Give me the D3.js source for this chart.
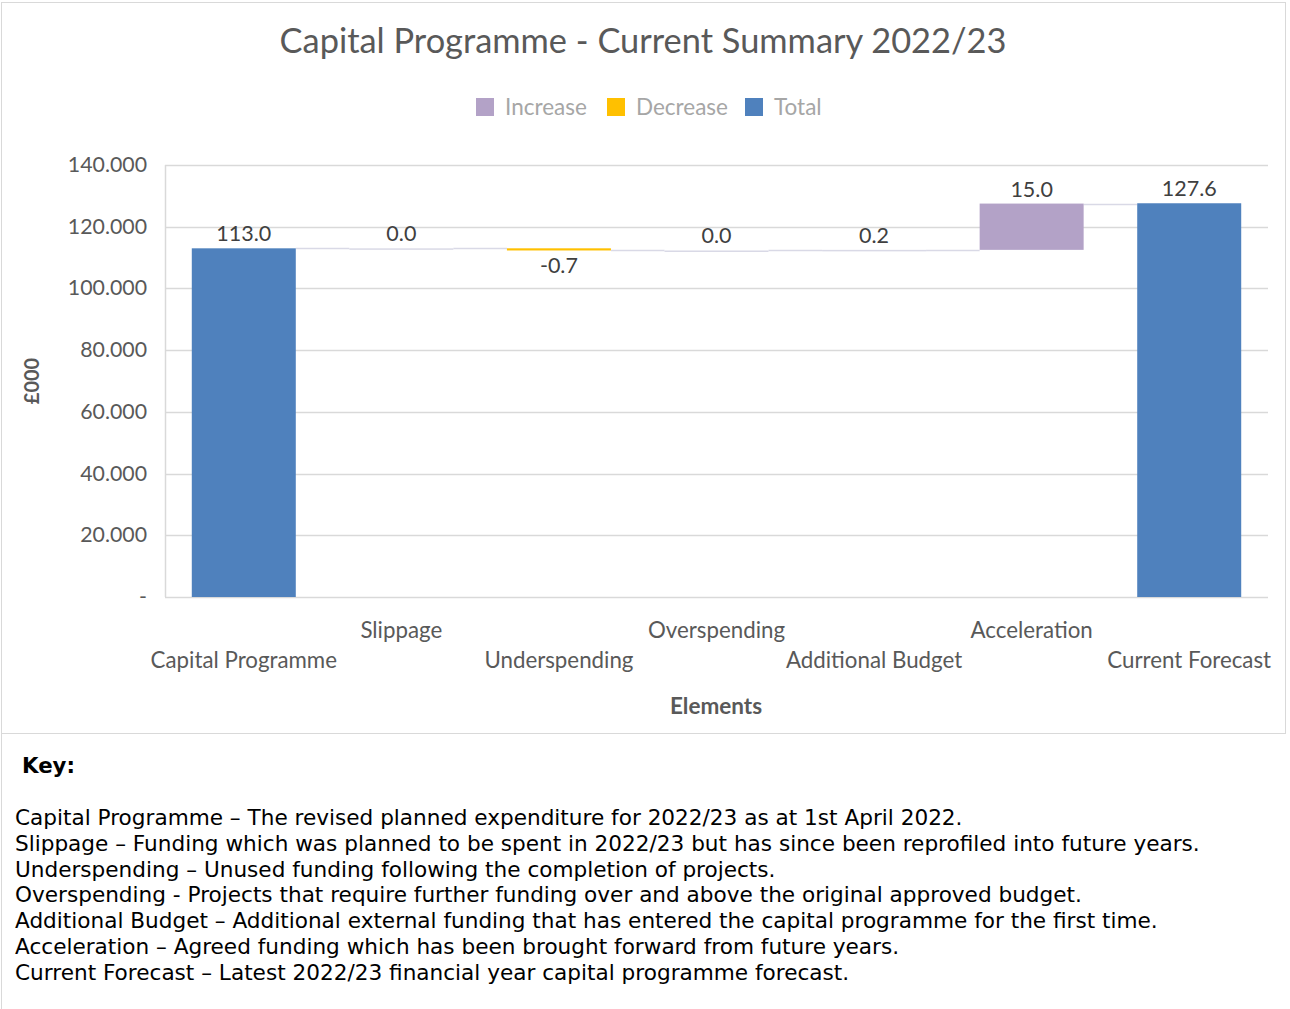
<!DOCTYPE html>
<html>
<head>
<meta charset="utf-8">
<script src="https://cdn.jsdelivr.net/npm/d3@7"></script>
<style>
  body { margin: 0; background: #fff; }
  svg { display: block; }
</style>
</head>
<body>
<div id="chart"></div>
<script>
// waterfall data
const categories = ['Capital Programme', 'Slippage', 'Underspending', 'Overspending',
                    'Additional Budget', 'Acceleration', 'Current Forecast'];
const values = [113.0, 0.0, -0.7, 0.0, 0.2, 15.0, 127.6];
const kinds = ['total', 'increase', 'decrease', 'increase', 'increase', 'increase', 'total'];
const yTicks = [0, 20, 40, 60, 80, 100, 120, 140];
const legendItems = ['Increase', 'Decrease', 'Total'];
const keyLines = [
  'Capital Programme \u2013 The revised planned expenditure for 2022/23 as at 1st April 2022.',
  'Slippage \u2013 Funding which was planned to be spent in 2022/23 but has since been reprofiled into future years.',
  'Underspending \u2013 Unused funding following the completion of projects.',
  'Overspending - Projects that require further funding over and above the original approved budget.',
  'Additional Budget \u2013 Additional external funding that has entered the capital programme for the first time.',
  'Acceleration \u2013 Agreed funding which has been brought forward from future years.',
  'Current Forecast \u2013 Latest 2022/23 financial year capital programme forecast.'
];

const colors = {increase: '#b3a2c7', decrease: '#ffc000', total: '#4f81bd'};
const W = 1290, H = 1009;
const font = 'Lato, "Open Sans", sans-serif';
const margin = {top: 165, right: 22, bottom: 412, left: 165};

const svg = d3.select('#chart').append('svg')
  .attr('width', W).attr('height', H)
  .style('font-family', font);

svg.append('rect').attr('width', W).attr('height', H).attr('fill', '#fff');

// chart frame + key divider
svg.append('rect').attr('x', 1.5).attr('y', 2.5).attr('width', 1284).attr('height', 731)
  .attr('fill', 'none').attr('stroke', '#d9d9d9');
svg.append('line').attr('x1', 1.5).attr('x2', 1.5).attr('y1', 733).attr('y2', H)
  .attr('stroke', '#d9d9d9');

// running totals
let run = 0;
const bars = categories.map((c, i) => {
  let start, end;
  if (kinds[i] === 'total') { start = 0; end = values[i]; }
  else { start = run; end = run + values[i]; }
  run = end;
  return {cat: c, value: values[i], kind: kinds[i], start, end};
});

const x = d3.scaleBand().domain(categories)
  .range([margin.left, W - margin.right])
  .paddingInner(0.34).paddingOuter(0.17);
const y = d3.scaleLinear().domain([0, 140]).range([H - margin.bottom, margin.top]);

// title
svg.append('text').attr('x', 643).attr('y', 53)
  .attr('text-anchor', 'middle').attr('fill', '#595959')
  .style('font-size', '34.4px')
  .text('Capital Programme - Current Summary 2022/23');

// legend
const lg = svg.append('g').attr('class', 'legend');
const legX = [476, 607, 745];
legendItems.forEach((name, i) => {
  const g = lg.append('g').attr('transform', `translate(${legX[i]}, 98)`);
  g.append('rect').attr('width', 18).attr('height', 18)
    .attr('fill', colors[name.toLowerCase()]);
  g.append('text').attr('x', 29).attr('y', 16.5)
    .attr('fill', '#a6a6a6').style('font-size', '22.5px').text(name);
});

// gridlines + y axis
const grid = svg.append('g').attr('class', 'grid');
grid.selectAll('line').data(yTicks).join('line')
  .attr('x1', margin.left).attr('x2', W - margin.right)
  .attr('y1', d => Math.round(y(d)) + 0.5).attr('y2', d => Math.round(y(d)) + 0.5)
  .attr('stroke', '#d9d9d9').attr('stroke-width', 1.5);
svg.append('line')
  .attr('x1', margin.left + 0.5).attr('x2', margin.left + 0.5)
  .attr('y1', y(140)).attr('y2', y(0))
  .attr('stroke', '#d9d9d9').attr('stroke-width', 1.5);

svg.append('g').attr('class', 'yaxis').selectAll('text').data(yTicks).join('text')
  .attr('x', 147).attr('y', d => y(d) + 7)
  .attr('text-anchor', 'end').attr('fill', '#595959')
  .style('font-size', '21.3px')
  .text(d => d === 0 ? '-' : d.toFixed(3));

svg.append('text')
  .attr('transform', `translate(39, ${(y(0) + y(140)) / 2}) rotate(-90)`)
  .attr('text-anchor', 'middle').attr('fill', '#595959')
  .style('font-size', '20px').style('font-weight', 'bold')
  .text('\u00a3000');

// connectors
const conn = svg.append('g').attr('class', 'connectors');
bars.slice(0, -1).forEach((b, i) => {
  const ly = Math.round(y(b.end)) + 0.5;
  conn.append('line')
    .attr('x1', x(b.cat) + x.bandwidth()).attr('x2', x(categories[i + 1]))
    .attr('y1', ly).attr('y2', ly)
    .attr('stroke', '#d9d9e6').attr('stroke-width', 1.5);
});

// bars
svg.append('g').attr('class', 'bars').selectAll('rect').data(bars).join('rect')
  .attr('x', d => x(d.cat))
  .attr('width', x.bandwidth())
  .attr('y', d => y(Math.max(d.start, d.end)))
  .attr('height', d => Math.max(1.5, Math.abs(y(d.start) - y(d.end))))
  .attr('fill', d => Math.abs(d.value) < 0.5 && d.kind !== 'decrease' ? '#d9d9e6' : colors[d.kind]);

// data labels
svg.append('g').attr('class', 'labels').selectAll('text').data(bars).join('text')
  .attr('x', d => x(d.cat) + x.bandwidth() / 2)
  .attr('y', d => d.value < 0 ? y(Math.min(d.start, d.end)) + 23 : y(Math.max(d.start, d.end)) - 7)
  .attr('text-anchor', 'middle').attr('fill', '#404040')
  .style('font-size', '21.5px')
  .text(d => d.value.toFixed(1));

// x labels, staggered
svg.append('g').attr('class', 'xaxis').selectAll('text').data(categories).join('text')
  .attr('x', d => x(d) + x.bandwidth() / 2)
  .attr('y', (d, i) => i % 2 === 0 ? 668 : 638)
  .attr('text-anchor', 'middle').attr('fill', '#595959')
  .style('font-size', '22.3px')
  .text(d => d);

svg.append('text').attr('x', 716).attr('y', 714)
  .attr('text-anchor', 'middle').attr('fill', '#595959')
  .style('font-size', '22.5px').style('font-weight', 'bold')
  .text('Elements');

// key
const kf = '"DejaVu Sans", Verdana, sans-serif';
svg.append('text').attr('x', 22).attr('y', 773)
  .style('font-family', kf).style('font-size', '21.3px').style('font-weight', 'bold')
  .attr('fill', '#000').text('Key:');
svg.append('g').attr('class', 'key').selectAll('text').data(keyLines).join('text')
  .attr('x', 15).attr('y', (d, i) => 825 + i * 25.8)
  .style('font-family', kf).style('font-size', '21.6px')
  .attr('fill', '#000').text(d => d);
</script>
</body>
</html>
